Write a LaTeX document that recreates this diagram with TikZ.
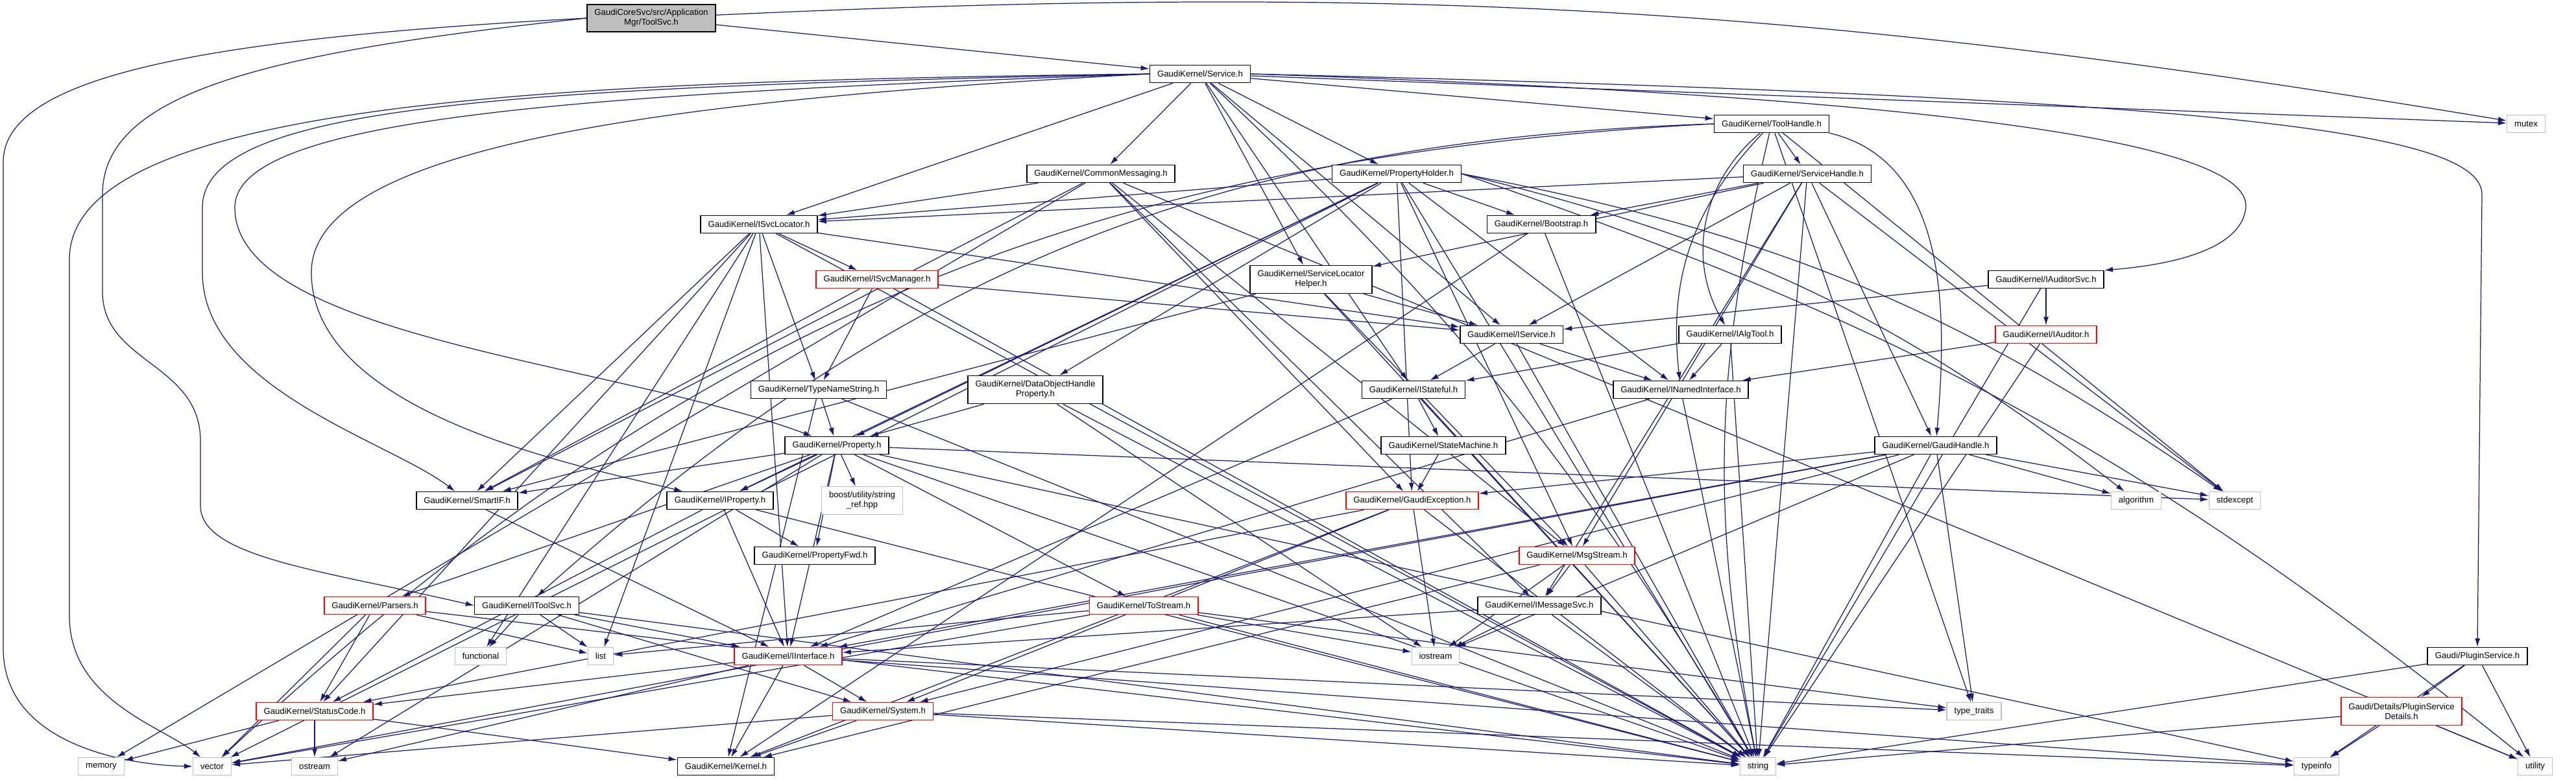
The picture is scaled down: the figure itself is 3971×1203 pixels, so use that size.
\documentclass[tikz,border=0pt]{standalone}
\usepackage{fontspec}
\setmainfont{Liberation Sans}
\usetikzlibrary{arrows.meta,backgrounds}
\definecolor{edgecol}{HTML}{191970}
\definecolor{sysgray}{HTML}{BFBFBF}
\definecolor{rootgray}{HTML}{BFBFBF}
\tikzset{
  hdr/.style={rectangle,draw=black,fill=white,line width=0.45pt,inner xsep=0.115cm,inner ysep=0pt,
    minimum height=0.27cm,align=center,font=\fontsize{3.75}{4.3}\selectfont},
  trunchdr/.style={hdr,draw=red},
  syshdr/.style={hdr,draw=sysgray,line width=0.35pt},
  rootfile/.style={hdr,fill=rootgray,minimum height=0.42cm},
  twoline/.style={minimum height=0.43cm},
  dep/.style={draw=edgecol,line width=0.35pt}
}
\begin{document}
\begin{tikzpicture}[x=0.01cm,y=-0.01cm,->,>={Latex[length=1.3mm,width=0.8mm]},
  every edge/.style={dep}]
\useasboundingbox (0,0) rectangle (3971,1203);
%root
  \node[rootfile] (toolsvc) at (1004,28) {GaudiCoreSvc/src/Application\\Mgr/ToolSvc.h};
%first row
  \node[hdr] (service) at (1850,114) {GaudiKernel/Service.h};
  \node[syshdr] (mutex) at (3894,191) {mutex};
  \node[hdr] (toolhandle) at (2731,191) {GaudiKernel/ToolHandle.h};
  \node[hdr] (commsg) at (1697,268) {GaudiKernel/CommonMessaging.h};
  \node[hdr] (propholder) at (2153,268) {GaudiKernel/PropertyHolder.h};
  \node[hdr] (svchandle) at (2786,268) {GaudiKernel/ServiceHandle.h};
  \node[hdr] (svcloc) at (1170,346) {GaudiKernel/ISvcLocator.h};
  \node[hdr] (bootstrap) at (2376,346) {GaudiKernel/Bootstrap.h};
%interfaces
  \node[trunchdr] (svcmgr) at (1352,431) {GaudiKernel/ISvcManager.h};
  \node[hdr,twoline] (slhelper) at (2021,431) {GaudiKernel/ServiceLocator\\Helper.h};
  \node[hdr] (auditorsvc) at (3154,431) {GaudiKernel/IAuditorSvc.h};
  \node[hdr] (iservice) at (2330,516) {GaudiKernel/IService.h};
  \node[hdr] (algtool) at (2667,516) {GaudiKernel/IAlgTool.h};
  \node[trunchdr] (auditor) at (3154,516) {GaudiKernel/IAuditor.h};
  \node[hdr] (typename) at (1262,601) {GaudiKernel/TypeNameString.h};
  \node[hdr,twoline] (dohprop) at (1596,601) {GaudiKernel/DataObjectHandle\\Property.h};
  \node[hdr] (stateful) at (2179,601) {GaudiKernel/IStateful.h};
  \node[hdr] (namedif) at (2591,601) {GaudiKernel/INamedInterface.h};
  \node[hdr] (property) at (1290,687) {GaudiKernel/Property.h};
  \node[hdr] (statemach) at (2225,687) {GaudiKernel/StateMachine.h};
  \node[hdr] (gaudihandle) at (2984,687) {GaudiKernel/GaudiHandle.h};
  \node[hdr] (smartif) at (720,772) {GaudiKernel/SmartIF.h};
  \node[hdr] (iproperty) at (1110,772) {GaudiKernel/IProperty.h};
  \node[syshdr,twoline] (boostref) at (1329,772) {boost/utility/string\\\_ref.hpp};
  \node[trunchdr] (gaudiexc) at (2177,772) {GaudiKernel/GaudiException.h};
  \node[syshdr] (algorithm) at (3293,772) {algorithm};
  \node[syshdr] (stdexcept) at (3445,772) {stdexcept};
  \node[hdr] (propfwd) at (1256,857) {GaudiKernel/PropertyFwd.h};
  \node[trunchdr] (msgstream) at (2431,857) {GaudiKernel/MsgStream.h};
  \node[trunchdr] (parsers) at (578,934) {GaudiKernel/Parsers.h};
  \node[hdr] (itoolsvc) at (812,934) {GaudiKernel/IToolSvc.h};
  \node[trunchdr] (tostream) at (1763,934) {GaudiKernel/ToStream.h};
  \node[hdr] (imsgsvc) at (2373,934) {GaudiKernel/IMessageSvc.h};
  \node[syshdr] (functional) at (741,1012) {functional};
  \node[syshdr] (list) at (926,1012) {list};
  \node[trunchdr] (iinterface) at (1215,1012) {GaudiKernel/IInterface.h};
  \node[syshdr] (iostream) at (2213,1012) {iostream};
  \node[hdr] (pluginsvc) at (3819,1012) {Gaudi/PluginService.h};
  \node[trunchdr] (statuscode) at (485,1097) {GaudiKernel/StatusCode.h};
  \node[trunchdr] (system) at (1361,1097) {GaudiKernel/System.h};
  \node[syshdr] (typetraits) at (3043,1097) {type\_traits};
  \node[trunchdr,twoline] (plugindet) at (3702,1097) {Gaudi/Details/PluginService\\Details.h};
%bottom row
  \node[syshdr] (memory) at (156,1182) {memory};
  \node[syshdr] (vector) at (327,1182) {vector};
  \node[syshdr] (ostream) at (485,1182) {ostream};
  \node[hdr] (kernel) at (1119,1182) {GaudiKernel/Kernel.h};
  \node[syshdr] (string) at (2710,1182) {string};
  \node[syshdr] (typeinfo) at (3571,1182) {typeinfo};
  \node[syshdr] (utility) at (3908,1182) {utility};
%includes
\begin{pgfonlayer}{background}
  %long curved ones
  \draw[dep] (toolsvc.west) .. controls (300,60) and (5,120) .. (5,250) -- (5,1000)
    .. controls (5,1150) and (200,1180) .. (vector.west);
  \draw[dep] (toolsvc.west) .. controls (420,80) and (158,140) .. (158,300) -- (158,450)
    .. controls (158,560) and (309,560) .. (309,680) -- (309,780)
    .. controls (309,860) and (500,880) .. (itoolsvc.west);
  \draw[dep] (service.east) .. controls (3400,150) and (3826,200) .. (3826,300) -- (pluginsvc.north);
  \draw[dep] (service.east) .. controls (3000,150) and (3470,220) .. (3462,320)
    .. controls (3455,390) and (3330,410) .. (auditorsvc.north east);
  \draw[dep] (service.west) .. controls (900,125) and (107,150) .. (107,400) -- (107,950)
    .. controls (107,1080) and (250,1120) .. (vector);
  \draw[dep] (service.west) .. controls (800,135) and (312,160) .. (312,320) -- (312,420)
    .. controls (312,600) and (600,680) .. (smartif);
  \draw[dep] (service.west) .. controls (900,145) and (362,180) .. (362,320)
    .. controls (362,520) and (950,560) .. (property);
  \draw[dep] (service.west) .. controls (1000,155) and (480,230) .. (480,420)
    .. controls (480,640) and (900,720) .. (iproperty);
  \draw[dep] (toolhandle.south east) .. controls (3010,250) and (3000,500) .. (gaudihandle);
  \path
    (toolsvc) edge (service) edge[bend left=6] (mutex)
    (service) edge (commsg) edge (propholder) edge (toolhandle) edge (svcloc)
      edge (iservice) edge (stateful) edge (slhelper)
      edge (mutex) edge[bend left=8] (string)
    (commsg) edge (svcloc) edge (smartif) edge (gaudiexc) edge (msgstream)
      edge (imsgsvc) edge (utility) edge (memory)
    (propholder) edge (bootstrap) edge (svcloc) edge (dohprop) edge (property)
      edge (iproperty) edge (namedif) edge (gaudiexc) edge (msgstream)
      edge (string) edge (vector)
    (propholder.east) edge[bend left=12] (algorithm) edge[bend left=12] (stdexcept)
      edge[bend left=10] (utility)
    (toolhandle) edge (svchandle) edge[bend right=40] (algtool) edge[bend right=25] (namedif)
      edge (typetraits) edge (stdexcept) edge[bend right=12] (string)
    (toolhandle.west) edge[bend right=20] (itoolsvc) edge[bend right=20] (vector)
    (svchandle) edge (bootstrap) edge (svcloc) edge (slhelper) edge (iservice)
      edge (gaudihandle) edge (msgstream) edge (imsgsvc) edge (stdexcept) edge (string)
    (svcloc) edge (svcmgr) edge (typename) edge (iservice) edge (smartif)
      edge (iinterface) edge (statuscode) edge (list) edge (functional) edge (string)
    (svcmgr) edge (typename) edge (smartif) edge (iservice) edge (string)
    (slhelper) edge (iservice) edge (smartif) edge (msgstream) edge (string)
    (bootstrap) edge (kernel) edge (string)
    (auditorsvc) edge (auditor) edge (iservice) edge (string)
    (auditor) edge (namedif) edge (string)
    (iservice) edge (stateful) edge (namedif) edge (string)
    (algtool) edge (stateful) edge (namedif) edge (string)
    (stateful) edge (statemach) edge (iinterface) edge (string)
    (namedif) edge (iinterface) edge (string)
    (statemach) edge (gaudiexc)
    (gaudiexc) edge (statuscode) edge (system) edge (kernel) edge (iostream) edge (string)
    (gaudihandle) edge (gaudiexc) edge (iinterface) edge (system) edge (iostream)
      edge (algorithm) edge (stdexcept) edge (typetraits) edge (string) edge (vector)
    (typename) edge (property) edge (kernel) edge (string)
    (dohprop) edge (property) edge (iostream) edge (string)
    (property) edge (propfwd) edge (iproperty) edge (boostref) edge (tostream)
      edge (parsers) edge (smartif) edge (iinterface) edge (ostream)
      edge (stdexcept) edge (typeinfo) edge (string)
    (iproperty) edge (propfwd) edge (iinterface) edge (statuscode) edge (string)
    (smartif) edge (iinterface)
    (parsers) edge (statuscode) edge (list) edge (vector) edge (string)
    (itoolsvc) edge (iinterface) edge (system) edge (functional) edge (list) edge (string)
    (tostream) edge (list) edge (iostream) edge (typetraits) edge (vector) edge (string)
    (msgstream) edge (imsgsvc) edge (kernel) edge (iostream) edge (string)
    (imsgsvc) edge (iinterface) edge (iostream) edge (string)
    (statuscode) edge (ostream) edge (memory) edge (kernel)
    (iinterface) edge (system) edge (kernel) edge (statuscode) edge (ostream)
      edge (typetraits) edge (typeinfo)
    (system) edge (kernel) edge (vector) edge (typeinfo) edge (string)
    (pluginsvc) edge (plugindet) edge (typeinfo) edge (utility) edge (string)
    (plugindet) edge (typeinfo) edge (utility) edge (string);
\end{pgfonlayer}
\end{tikzpicture}
\end{document}
